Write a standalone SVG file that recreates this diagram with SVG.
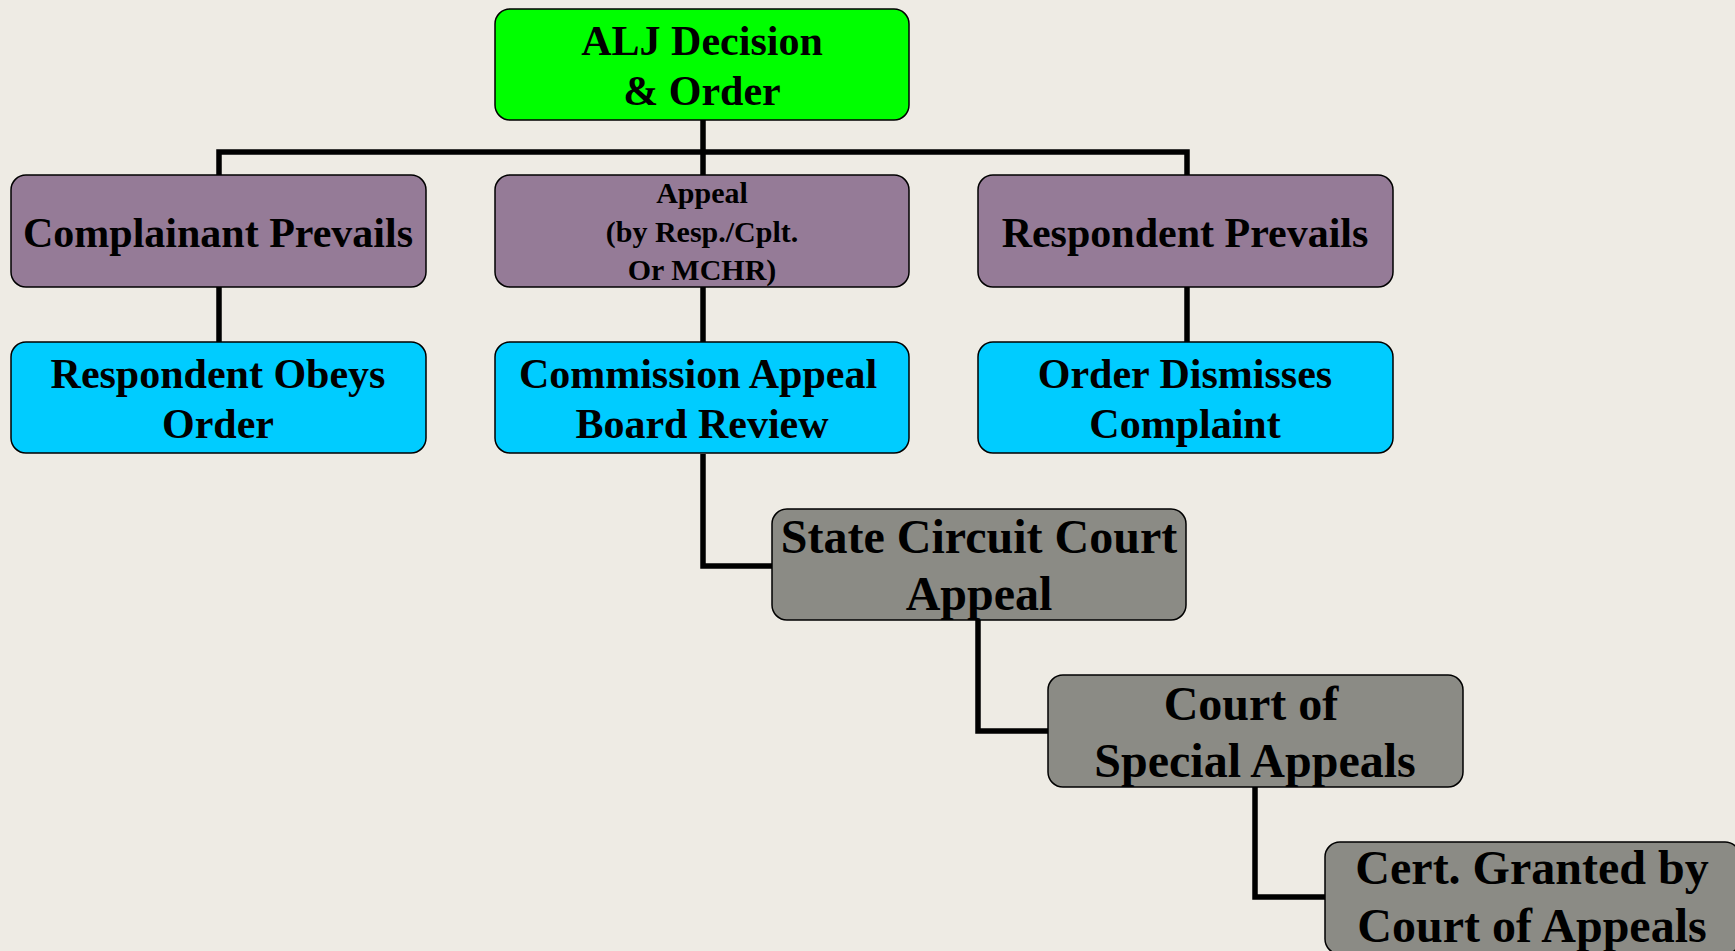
<svg xmlns="http://www.w3.org/2000/svg" width="1735" height="951" viewBox="0 0 1735 951">
<style>
.n{stroke:#000;stroke-width:1.5}
.g{fill:#00FF00}.p{fill:#957B97}.c{fill:#00CCFF}.k{fill:#8B8B85}
text{font-family:"Liberation Serif","Times New Roman",serif;font-weight:bold;fill:#000;text-anchor:middle}
.t42{font-size:42px}.t30{font-size:30px}.t48{font-size:48px}
.e{fill:none;stroke:#000;stroke-width:5.5}
</style>
<rect width="1735" height="951" fill="#EEEBE4"/>
<g id="connectors">
<path class="e" d="M219 175V152H1187V175M703 120V175"/>
<path class="e" d="M219 287V342M703 287V342M1187 287V342"/>
<path class="e" d="M703 454V566H772"/>
<path class="e" d="M978 620V731H1048"/>
<path class="e" d="M1255 787V897H1325"/>
</g>
<g id="alj"><rect class="n g" x="495" y="9" width="414" height="111" rx="15"/><text class="t42" x="702" y="55">ALJ Decision</text><text class="t42" x="702" y="105">&amp; Order</text></g>
<g id="complainant"><rect class="n p" x="11" y="175" width="415" height="112" rx="15"/><text class="t42" x="218" y="247">Complainant Prevails</text></g>
<g id="appeal"><rect class="n p" x="495" y="175" width="414" height="112" rx="15"/><text class="t30" x="702" y="203">Appeal</text><text class="t30" x="702" y="242">(by Resp./Cplt.</text><text class="t30" x="702" y="280">Or MCHR)</text></g>
<g id="respondent"><rect class="n p" x="978" y="175" width="415" height="112" rx="15"/><text class="t42" x="1185" y="247">Respondent Prevails</text></g>
<g id="obeys"><rect class="n c" x="11" y="342" width="415" height="111" rx="15"/><text class="t42" x="218" y="388">Respondent Obeys</text><text class="t42" x="218" y="438">Order</text></g>
<g id="commission"><rect class="n c" x="495" y="342" width="414" height="111" rx="15"/><text class="t42" x="698" y="388">Commission Appeal</text><text class="t42" x="702" y="438">Board Review</text></g>
<g id="dismisses"><rect class="n c" x="978" y="342" width="415" height="111" rx="15"/><text class="t42" x="1185" y="388">Order Dismisses</text><text class="t42" x="1185" y="438">Complaint</text></g>
<g id="circuit"><rect class="n k" x="772" y="509" width="414" height="111" rx="15"/><text class="t48" x="979" y="553">State Circuit Court</text><text class="t48" x="979" y="610">Appeal</text></g>
<g id="special"><rect class="n k" x="1048" y="675" width="415" height="112" rx="15"/><text class="t48" x="1251" y="720">Court of</text><text class="t48" x="1255" y="777">Special Appeals</text></g>
<g id="cert"><rect class="n k" x="1325" y="842" width="415" height="112" rx="15"/><text class="t48" x="1532" y="884">Cert. Granted by</text><text class="t48" x="1532" y="942">Court of Appeals</text></g>
</svg>
